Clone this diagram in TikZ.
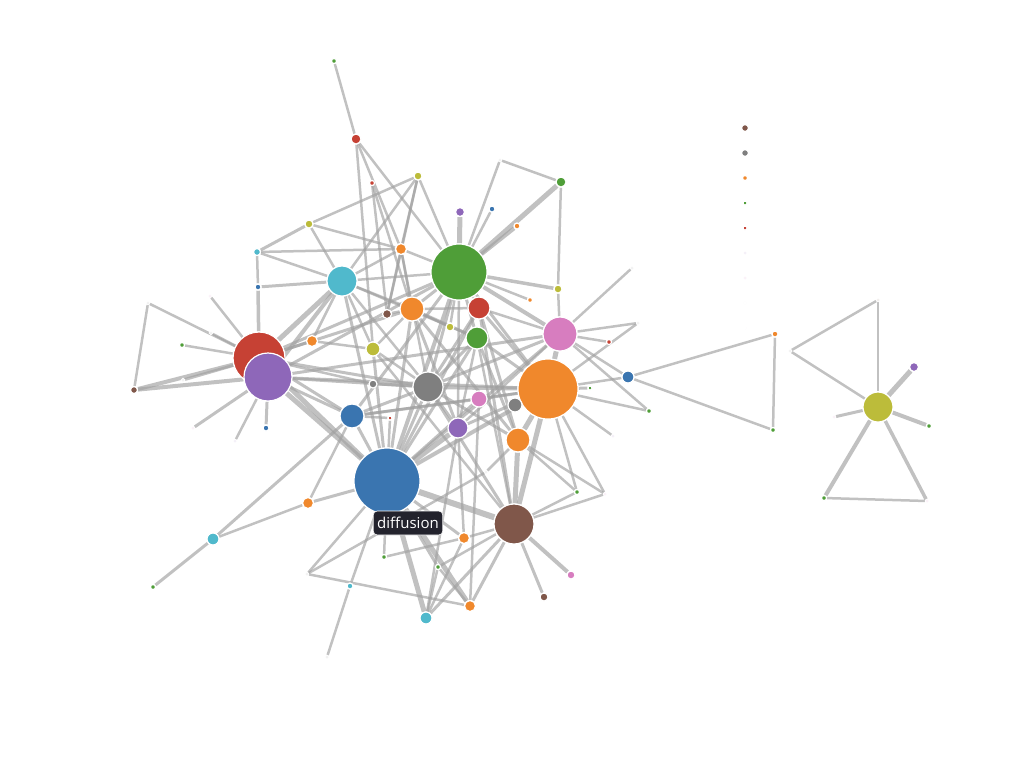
\documentclass[tikz,border=0pt]{standalone}
\usepackage{fontspec}
\usepackage{tikz}
\usetikzlibrary{backgrounds}
\newfontfamily\tipfont{Open Sans}
\definecolor{cblue}{RGB}{58,117,176}
\definecolor{corange}{RGB}{240,136,44}
\definecolor{cgreen}{RGB}{79,158,56}
\definecolor{cred}{RGB}{198,65,52}
\definecolor{cpurple}{RGB}{142,103,185}
\definecolor{cbrown}{RGB}{128,87,74}
\definecolor{cpink}{RGB}{215,125,191}
\definecolor{cgray}{RGB}{127,127,127}
\definecolor{colive}{RGB}{188,188,58}
\definecolor{ccyan}{RGB}{80,185,204}
\definecolor{linkgray}{RGB}{160,160,160}
\definecolor{tipdark}{RGB}{35,35,45}
\tikzstyle{dot} = [circle, draw=white, line width=1.2pt, inner sep=0pt]
\tikzstyle{link} = [draw=linkgray, draw opacity=0.65, line width=2.5pt]
\tikzstyle{tip} = [rectangle, rounded corners=4pt, fill=tipdark, draw=white, line width=0.6pt, text=white, inner xsep=4pt, inner ysep=0pt, minimum height=24, font=\tipfont\fontsize{15}{17}\selectfont]

\begin{document}
\begin{tikzpicture}[x=1pt, y=-1pt]
    \useasboundingbox (0,0) rectangle (1018,772);
    % Nodes
    \foreach \n/\x/\y/\r/\c in {
        g1/459/272/28/cgreen, o1/548/389/30/corange, diffusion/387/481/33/cblue,
        r1/259/358/26/cred, p1/268/377/24/cpurple, br1/514/524/20/cbrown,
        c1/342/281/15/ccyan, gr1/428/387/15/cgray, pk1/560/334/17/cpink,
        o2/412/309/12/corange, r2/479/308/11/cred, g2/477/338/11/cgreen,
        b2/352/416/12/cblue, o3/518/440/12/corange, p2/458/428/10/cpurple,
        pk2/479/399/8/cpink, gr2/515/405/7/cgray, ol1/373/349/7/colive,
        olb/878/407/15/colive, b3/628/377/6/cblue, r3/356/139/5/cred,
        g3/561/182/5/cgreen, p3/460/212/4.5/cpurple, ol2/418/176/4/colive,
        ol3/309/224/4/colive, o4/401/249/5.5/corange, o5/312/341/5.5/corange,
        br2/387/314/4.5/cbrown, ol4/450/327/4/colive, gr3/373/384/4/cgray,
        o6/308/503/5.5/corange, c2/213/539/6/ccyan, o7/464/538/5.5/corange,
        o8/470/606/5.5/corange, c3/426/618/6/ccyan, br3/544/597/4/cbrown,
        pk3/571/575/4/cpink, p4/914/367/4.5/cpurple, ol5/558/289/4/colive,
        c4/257/252/3.5/ccyan, b4/258/287/3/cblue, b5/492/209/3/cblue,
        o9/517/226/3/corange, o10/530/300/2.5/corange, o11/775/334/3/corange,
        g4/334/61/2.5/cgreen, g5/773/430/2.5/cgreen, g6/929/426/2.5/cgreen,
        g7/824/498/2.5/cgreen, g8/649/411/2.5/cgreen, g9/577/492/2.5/cgreen,
        g10/182/345/2.5/cgreen, g11/153/587/2.5/cgreen, g12/384/557/2.5/cgreen,
        g13/438/567/2.5/cgreen, g14/590/388/2/cgreen, r4/609/342/2.5/cred,
        r5/372/183/2.5/cred, r6/390/418/2/cred, br4/134/390/3.5/cbrown,
        b6/266/428/3/cblue, c5/350/586/3/ccyan,
        w1/148/303/1.5/cgray, w2/210/296/1.5/cpink, w3/193/428/1.5/cpink,
        w4/235/441/1.5/cpurple, w5/500/160/1.5/cgray, w6/632/268/1.5/cgray,
        w7/638/323/1.5/cgray, w8/605/494/1.5/cpink, w9/613/436/1.5/cpurple,
        w10/878/300/1.5/cbrown, w11/790/351/1.5/cgray, w12/834/417/1.5/cpink,
        w13/927/501/1.5/cpink, w14/307/574/1.5/cgray, w15/327/657/1.5/cgray,
        w16/486/472/1.5/cgray, w17/211/333/1.5/cgray, w18/183/380/1.5/cgray,
        l1/745/128/3.5/cbrown, l2/745/153/3.5/cgray, l3/745/178/2.5/corange,
        l4/745/203/2/cgreen, l5/745/228/2/cred, l6/745/253/1.5/cpurple,
        l7/745/278/1.5/cpink, l8/745/303/1.2/cpink, l9/745/328/1/cpink}
        \node[dot, fill=\c, minimum size=2*\r] (\n) at (\x,\y) {};
    % Links
    \begin{scope}[on background layer]
    \foreach \a/\b/\w in {
        g4/r3/2.5, r3/o4/2.5, r3/g1/2.5, r3/ol1/2.5, r5/o2/2.5, r5/br2/2.5,
        ol2/ol3/2.5, ol2/c1/2.5, ol2/o4/2.5, ol2/g1/2.5, ol2/br2/2.5,
        ol3/c4/3, ol3/c1/2.5, ol3/o4/2.5, c4/o4/2.5, c4/c1/2.5, c4/b4/2.5,
        b4/c1/3, b4/r1/3.5, c1/r1/5, c1/p1/4, c1/g1/2.5, c1/o4/2.5,
        c1/gr1/2.5, c1/diffusion/3, c1/o2/2.5, c1/g2/2.5, o4/g1/2.5,
        o4/o2/2.5, o4/gr1/2.5, o4/br2/2.5, g1/p3/5, g1/b5/2.5, g1/w5/2.5,
        g1/g3/5, g1/o9/4, g1/ol5/3.5, g1/o10/2.5, g1/pk1/4, g1/o1/3,
        g1/r2/3, g1/g2/3, g1/o2/3, g1/gr1/3, g1/diffusion/4, g1/r1/3,
        g1/p1/3, g1/p2/2.5, g1/ol4/2.5, w5/g3/2.5, g3/ol5/2.5, ol5/pk1/2.5,
        pk1/w6/2.5, pk1/w7/2.5, pk1/r4/2.5, pk1/g8/2.5, pk1/b3/2.5, pk1/o1/5,
        pk1/r2/2.5, pk1/gr1/3, pk1/diffusion/3, pk1/p2/2.5, o1/b3/2.5,
        o1/o3/5, o1/gr2/4, o1/g8/2.5, o1/g14/3, o1/g9/2.5, o1/w8/2.5,
        o1/w9/2.5, o1/br1/5, o1/diffusion/4, o1/gr1/4, o1/r2/3, o1/g2/3,
        o1/pk2/3, o1/p2/3, o1/b2/2.5, o1/w7/2.5, b3/o11/2.5, b3/g5/2.5,
        o11/g5/2.5, w11/w10/2.5, w11/olb/2.5, w10/olb/2.5, olb/p4/5,
        olb/g6/4, olb/w12/3, olb/g7/4, olb/w13/3.5, g7/w13/2.5,
        br1/diffusion/6, br1/o3/5, br1/g2/2.5, br1/pk3/4, br1/br3/3,
        br1/o7/2.5, br1/o8/3, br1/c3/3, br1/g9/2.5, br1/w8/2.5, br1/g13/2.5,
        br1/gr1/3, o3/g9/2.5, o3/w8/2.5, o3/w16/2.5, diffusion/b2/3,
        diffusion/r1/5, diffusion/p1/5, diffusion/gr1/3, diffusion/p2/5,
        diffusion/pk2/3, diffusion/o6/3, diffusion/w14/2.5, diffusion/g12/2.5,
        diffusion/g13/3, diffusion/o7/3, diffusion/o8/5, diffusion/c3/5,
        diffusion/c5/2.5, diffusion/r2/3, diffusion/g2/3, diffusion/ol1/3,
        diffusion/o2/3, c5/w15/2.5, w14/o8/2.5, w14/w16/2.5, c2/o6/2.5,
        c2/b2/3, c2/g11/3, o6/b2/2.5, b2/r1/3, b2/p1/3, b2/gr1/3, b2/g1/3,
        b2/pk2/3, r1/w1/2.5, r1/g10/2.5, r1/br4/4, r1/w2/2.5, r1/o5/3,
        r1/gr1/3, r1/o2/3, r1/w17/2.5, r1/w18/3, p1/br4/4, p1/w3/3,
        p1/w4/2.5, p1/b6/3, p1/gr1/3, p1/o1/3, p1/pk1/3, w1/br4/2.5,
        gr1/ol1/2.5, gr1/gr3/2.5, gr1/r2/3, gr1/g2/3, gr1/o3/3, gr1/p2/3,
        o2/r2/2.5, o2/g2/3, o2/ol4/2.5, o2/br2/2.5, o2/p2/3, o2/o3/3,
        r2/o3/3, r2/br1/3, g2/o3/3, g2/p2/2.5, p2/o7/2.5, p2/c3/2.5,
        pk2/o8/2.5, o7/c3/2.5, o7/g12/2.5, o8/g13/2.5, c3/g13/2.5,
        ol1/o5/2.5, ol1/c1/2.5, ol1/o2/2.5, ol1/br1/2.5, gr3/r1/2.5,
        o5/c1/2.5, r6/diffusion/2.5, r6/b2/2.5}
        \draw[link, line width=\w] (\a) -- (\b);
    \end{scope}
    % Tooltip
    \node[tip] (hover) at (408,523) {diffusion};
\end{tikzpicture}
\end{document}
